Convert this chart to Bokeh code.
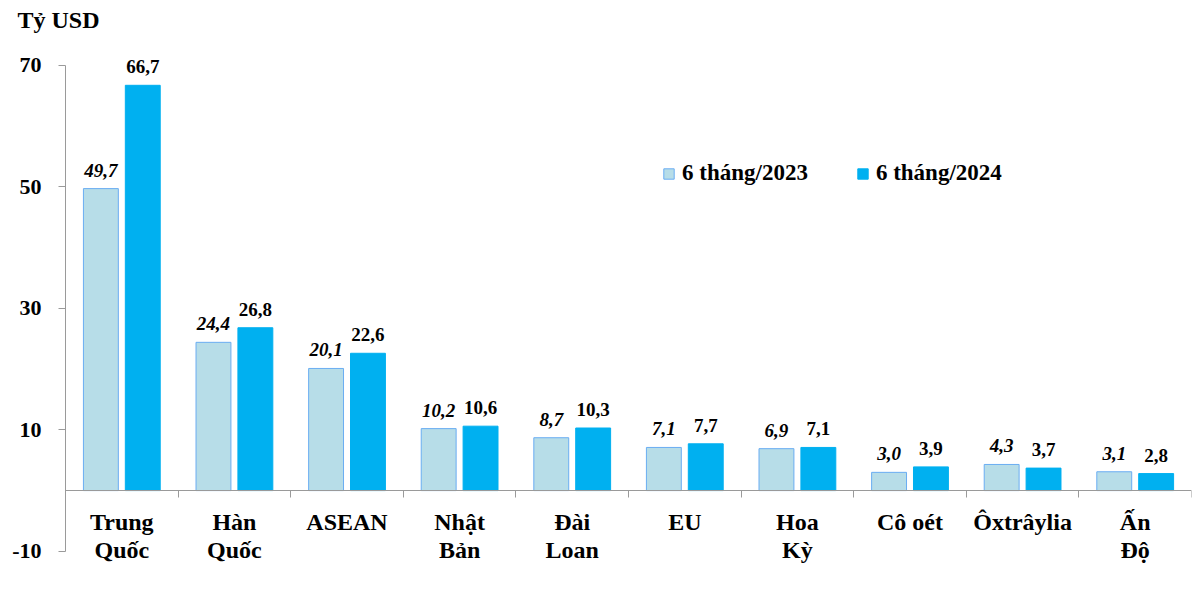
import numpy as np
from bokeh.plotting import figure
from bokeh.models import (Range1d, LinearAxis, FixedTicker, Legend, LegendItem,
                          ColumnDataSource)
from bokeh.core.properties import value
from bokeh.embed import file_html
from bokeh.resources import INLINE

categories = ["Trung\nQuốc", "Hàn\nQuốc", "ASEAN", "Nhật\nBản", "Đài\nLoan",
              "EU", "Hoa\nKỳ", "Cô oét", "Ôxtrâylia", "Ấn\nĐộ"]
v2023 = [49.7, 24.4, 20.1, 10.2, 8.7, 7.1, 6.9, 3.0, 4.3, 3.1]
v2024 = [66.7, 26.8, 22.6, 10.6, 10.3, 7.7, 7.1, 3.9, 3.7, 2.8]
series_names = ["6 tháng/2023", "6 tháng/2024"]
y_ticks = [-10, 10, 30, 50, 70]
y_tick_labels = ["-10", "10", "30", "50", "70"]
unit_label = "Tỷ USD"

FONT = "Liberation Serif"
C23_FILL = "#B7DDE8"
C23_LINE = "#6AADF2"
C24_FILL = "#00B0F0"
AXIS_C = "#9A9A9A"

n = len(categories)
xc = np.arange(n) + 0.5
off = 0.186
bw = 0.31
y_lo, y_hi = y_ticks[0], y_ticks[-1]

def fmt(v):
    return f"{v:.1f}".replace(".", ",")

src = ColumnDataSource(dict(
    xc=xc, x23=xc - off, x24=xc + off, v23=v2023, v24=v2024,
    l23=[fmt(v) for v in v2023], l24=[fmt(v) for v in v2024],
    cat=categories, zero=[0] * n,
))

p = figure(width=1192, height=584, output_backend="svg", toolbar_location=None,
           x_range=Range1d(-0.542, n), y_range=Range1d(-12, 80),
           min_border_left=4, min_border_right=1, min_border_top=4,
           min_border_bottom=21, x_axis_location=None, y_axis_location=None)
p.outline_line_color = None
p.grid.visible = False
p.background_fill_color = "white"

yax = LinearAxis(ticker=FixedTicker(ticks=y_ticks), bounds=(y_lo, y_hi),
                 fixed_location=0)
yax.major_label_overrides = {t: s for t, s in zip(y_ticks, y_tick_labels)}
yax.axis_line_color = AXIS_C
yax.major_tick_line_color = AXIS_C
yax.major_tick_out = 7
yax.major_tick_in = 0
yax.minor_tick_line_color = None
yax.major_label_text_font = FONT
yax.major_label_text_font_style = "bold"
yax.major_label_text_font_size = "22px"
yax.major_label_text_color = "black"
yax.major_label_standoff = 17
p.add_layout(yax, "left")

xax = LinearAxis(ticker=FixedTicker(ticks=list(range(n + 1))), fixed_location=0,
                 bounds=(0, n))
xax.axis_line_color = AXIS_C
xax.major_tick_line_color = AXIS_C
xax.major_tick_out = 7
xax.major_tick_in = 0
xax.minor_tick_line_color = None
xax.major_label_text_font_size = "0px"
xax.major_label_text_alpha = 0
p.add_layout(xax, "below")

r23 = p.vbar(x="x23", top="v23", width=bw, source=src, fill_color=C23_FILL,
             line_color=C23_LINE, line_width=1)
r24 = p.vbar(x="x24", top="v24", width=bw, source=src, fill_color=C24_FILL,
             line_color=C24_FILL, line_width=1)

p.text(x="x23", y="v23", text="l23", source=src, text_font=value(FONT),
       text_font_style="bold italic", text_font_size="19px", text_align="center",
       text_baseline="bottom", y_offset=-12, text_color="black")
p.text(x="x24", y="v24", text="l24", source=src, text_font=value(FONT),
       text_font_style="bold", text_font_size="19px", text_align="center",
       text_baseline="bottom", y_offset=-12, text_color="black")

p.text(x="xc", y="zero", text="cat", source=src, text_font=value(FONT),
       text_font_style="bold", text_font_size="24px", text_align="center",
       text_baseline="top", y_offset=18, text_line_height=1.08, text_color="black")

# unit label above the y axis
p.text(x=[0], y=[y_hi], text=[unit_label], text_font=value(FONT),
       text_font_style="bold", text_font_size="24px", text_align="left",
       text_baseline="top", x_offset=-48, y_offset=-58, text_color="black")

legend = Legend(items=[LegendItem(label=series_names[0], renderers=[r23]),
                       LegendItem(label=series_names[1], renderers=[r24])],
                orientation="horizontal", location=(658, 377),
                glyph_width=13, glyph_height=13, label_standoff=7, spacing=48,
                padding=0, margin=0, border_line_alpha=0, background_fill_alpha=0,
                label_text_font=FONT, label_text_font_style="bold",
                label_text_font_size="23px", label_text_color="black")
p.add_layout(legend, "center")

open("out.html", "w").write(file_html(p, INLINE))
